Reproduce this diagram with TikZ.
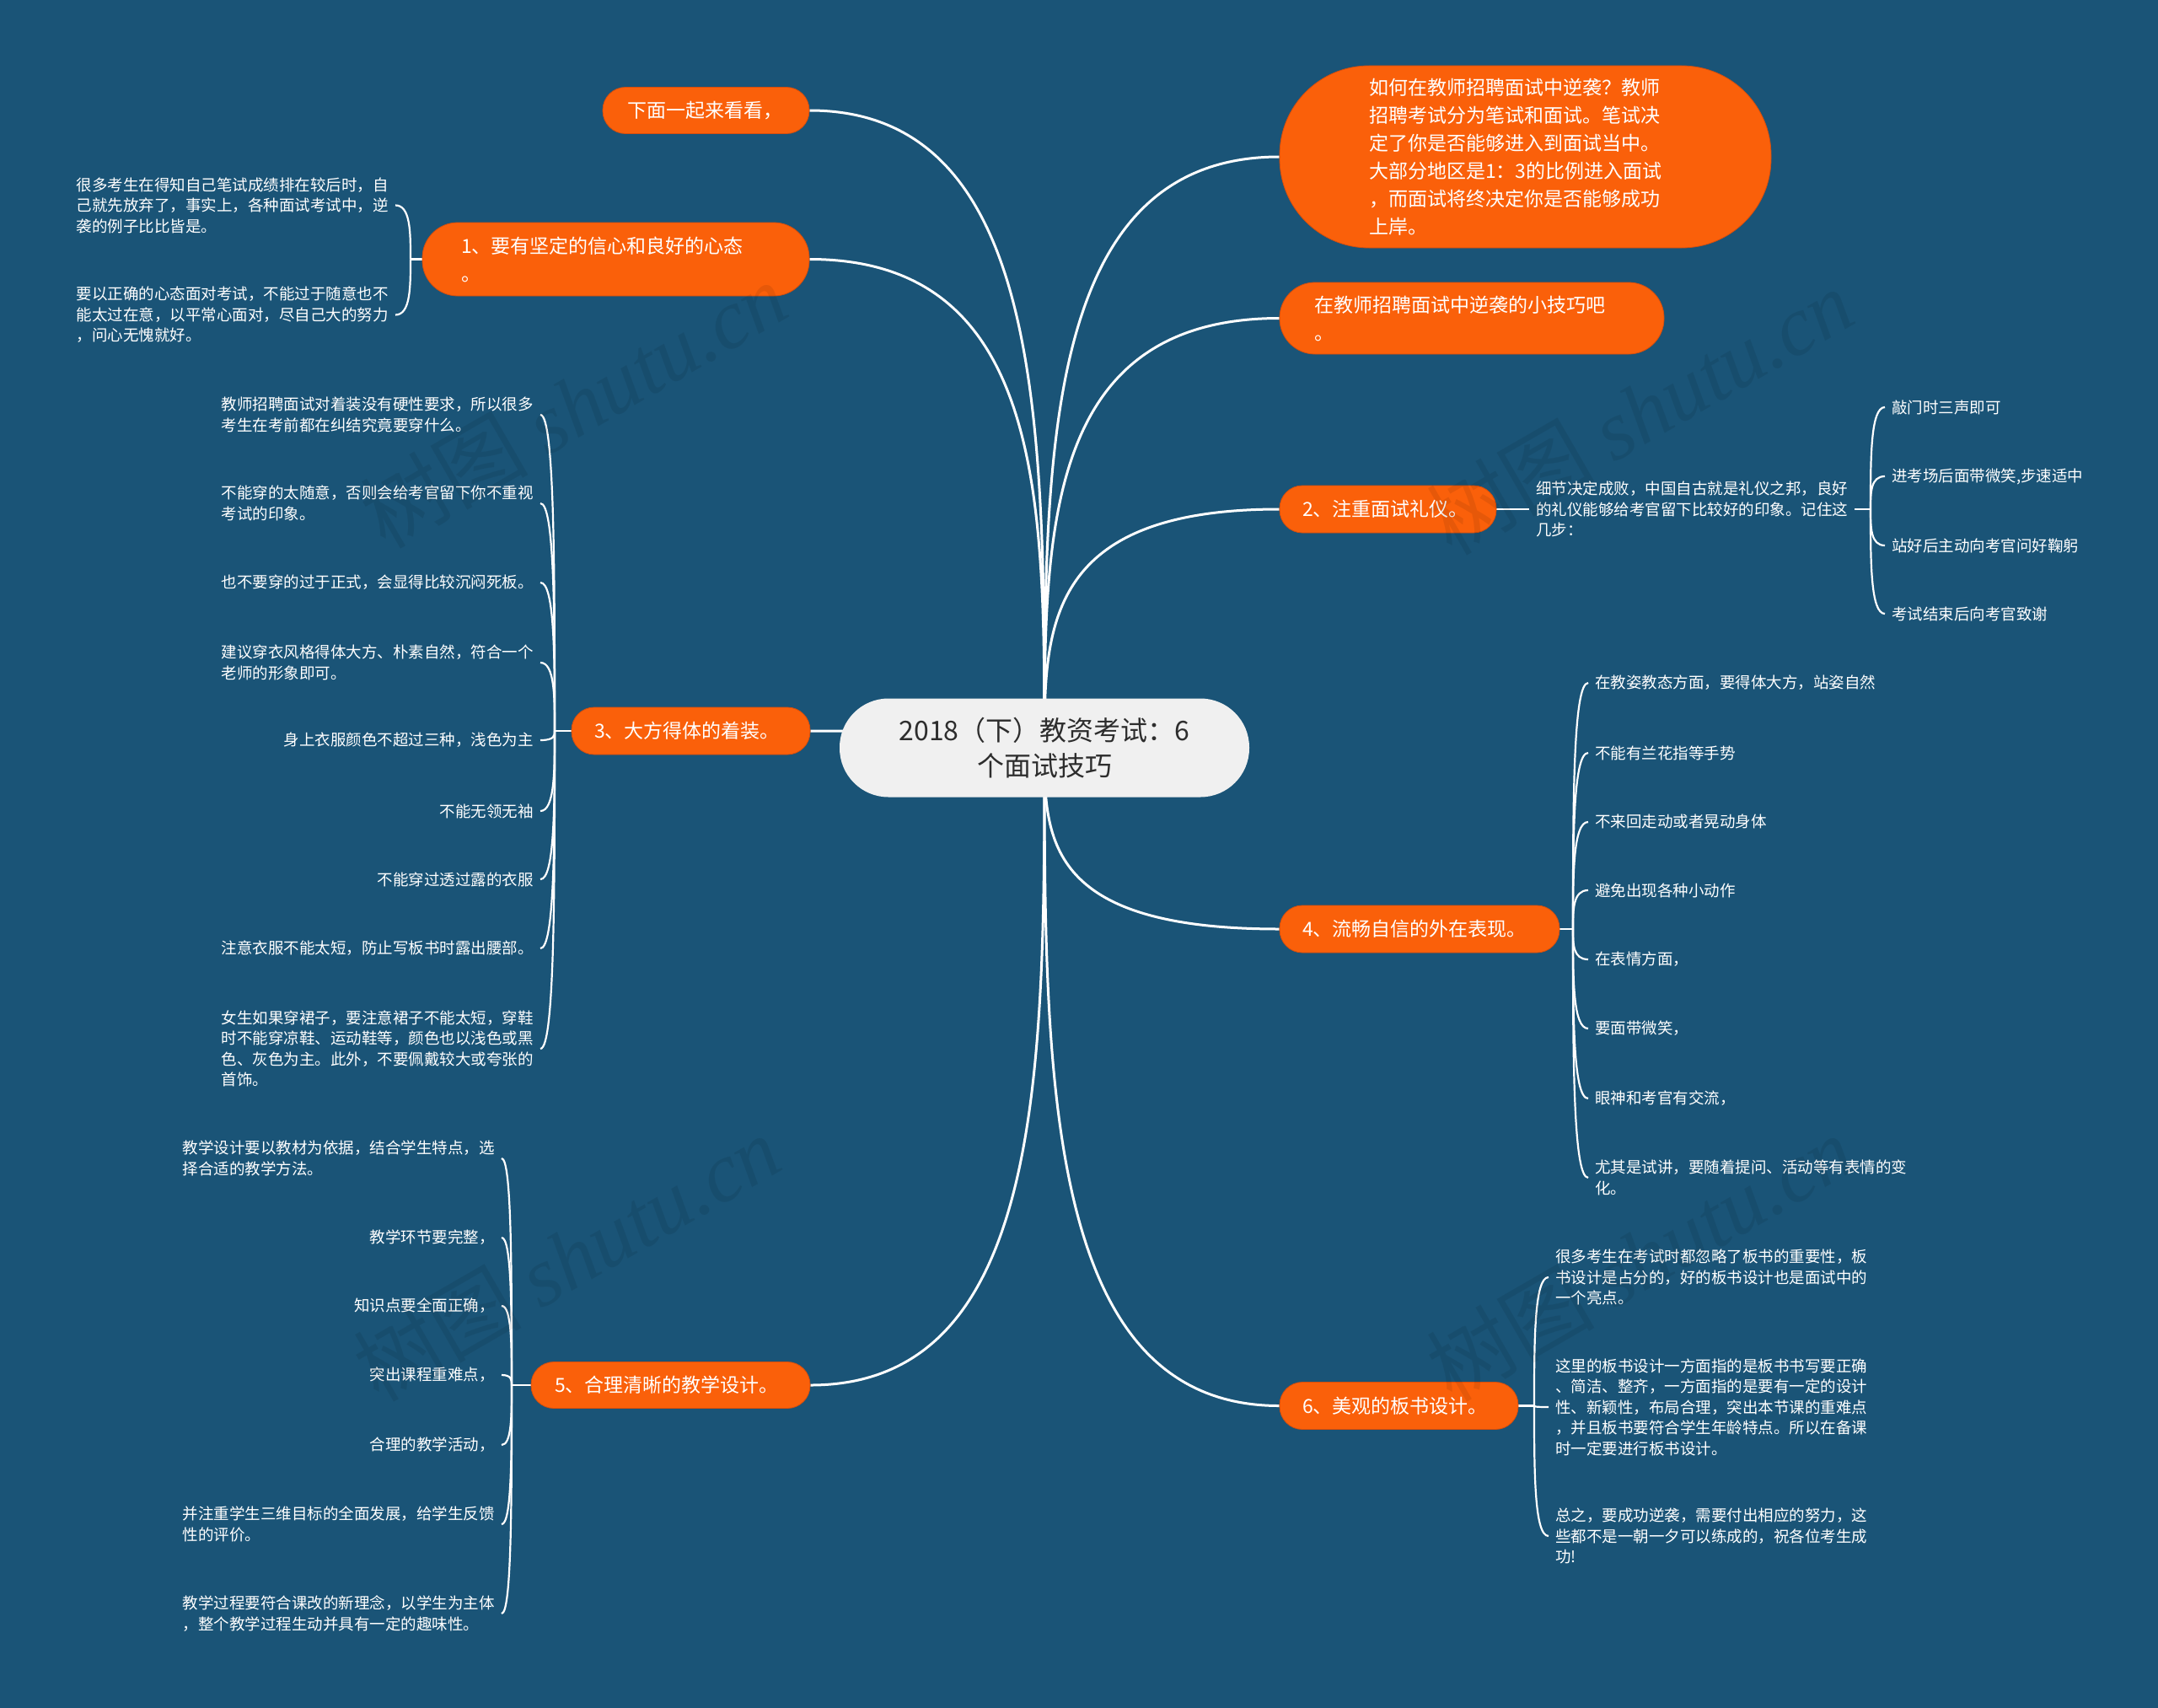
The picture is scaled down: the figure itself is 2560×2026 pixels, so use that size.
\documentclass[tikz,border=0pt]{standalone}
\usepackage{fontspec}
\setmainfont{Noto Sans CJK SC}
\newfontfamily\wmserif{Liberation Serif}
\usetikzlibrary{calc}
\definecolor{bgc}{RGB}{26,84,119}
\definecolor{orgc}{RGB}{250,96,10}
\definecolor{orgd}{RGB}{214,78,12}
\definecolor{cfill}{RGB}{240,240,240}
\definecolor{ctext}{RGB}{45,45,45}
\pgfdeclarelayer{bgl}
\pgfdeclarelayer{edgel}
\pgfsetlayers{bgl,edgel,main}
\newcommand\mmlink[3]{%
  \path (#1 |- #2) coordinate (mmk);
  \draw[#3] (#1) .. controls ($(#1)!0.5!(mmk)$) and (mmk) .. (#2);}
\tikzset{
  edge/.style={draw=white, line width=3pt},
  twig/.style={draw=white, line width=2.2pt},
  topic/.style={fill=orgc, draw=orgd, line width=0.8pt, text=white,
    font=\fontsize{23}{33}\selectfont, align=left, inner ysep=0pt},
  leaf/.style={text=white, font=\fontsize{18.5}{24.5}\selectfont,
    align=left, inner xsep=8pt, inner ysep=0pt},
  wm/.style={rotate=30, opacity=0.08, text=black, font=\fontsize{100}{100}\selectfont}
}
\begin{document}
\begin{tikzpicture}[x=1pt,y=-1pt]
\useasboundingbox (0,0) rectangle (2560,2026);
\begin{pgfonlayer}{bgl}
\fill[bgc] (0,0) rectangle (2560,2026);
\end{pgfonlayer}

% centre
\node[fill=cfill, text=ctext, font=\fontsize{32}{42}\selectfont, align=center,
  minimum width=486pt, minimum height=117pt, rounded corners=58pt, inner sep=0pt]
  (c) at (1239,887) {2018（下）教资考试：6\\个面试技巧};

% topics
\node[topic, inner xsep=29pt, text width=187pt, minimum height=55pt, rounded corners=27pt]
  (t0) at (837.5,131) {下面一起来看看，};
\node[topic, inner xsep=46pt, text width=367pt, minimum height=87pt, rounded corners=42pt]
  (t1) at (730.5,307.5) {1、要有坚定的信心和良好的心态\\。};
\node[topic, inner xsep=27pt, text width=229pt, minimum height=56pt, rounded corners=27pt]
  (t3) at (819.5,867) {3、大方得体的着装。};
\node[topic, inner xsep=28pt, text width=275pt, minimum height=55pt, rounded corners=27pt]
  (t5) at (795.5,1643) {5、合理清晰的教学设计。};
\node[topic, inner xsep=106pt, text width=371pt, minimum height=216pt, rounded corners=106pt]
  (tb) at (1809.5,186) {如何在教师招聘面试中逆袭？教师\\招聘考试分为笔试和面试。笔试决\\定了你是否能够进入到面试当中。\\大部分地区是1：3的比例进入面试\\，而面试将终决定你是否能够成功\\上岸。};
\node[topic, inner xsep=41pt, text width=374pt, minimum height=85pt, rounded corners=42pt]
  (tt) at (1746,377.5) {在教师招聘面试中逆袭的小技巧吧\\。};
\node[topic, inner xsep=27pt, text width=203pt, minimum height=56pt, rounded corners=27pt]
  (t2) at (1646.5,604) {2、注重面试礼仪。};
\node[topic, inner xsep=27pt, text width=278pt, minimum height=56pt, rounded corners=27pt]
  (t4) at (1684,1102) {4、流畅自信的外在表现。};
\node[topic, inner xsep=27pt, text width=229pt, minimum height=56pt, rounded corners=27pt]
  (t6) at (1659.5,1667.5) {6、美观的板书设计。};

% hubs
\coordinate (h1) at (487,307.5);
\coordinate (h3) at (658,867);
\coordinate (h5) at (607,1643);
\coordinate (h2) at (2219,604);
\coordinate (h4) at (1866,1102);
\coordinate (h6) at (1820,1667.5);

% branch 1 leaves
\node[leaf, anchor=east] (a1) at (469,243.5) {很多考生在得知自己笔试成绩排在较后时，自\\己就先放弃了，事实上，各种面试考试中，逆\\袭的例子比比皆是。};
\node[leaf, anchor=east] (a2) at (469,373.5) {要以正确的心态面对考试，不能过于随意也不\\能太过在意，以平常心面对，尽自己大的努力\\，问心无愧就好。};

% branch 3 leaves
\node[leaf, anchor=east] (b1) at (641,492) {教师招聘面试对着装没有硬性要求，所以很多\\考生在考前都在纠结究竟要穿什么。};
\node[leaf, anchor=east] (b2) at (641,597) {不能穿的太随意，否则会给考官留下你不重视\\考试的印象。};
\node[leaf, anchor=east] (b3) at (641,691) {也不要穿的过于正式，会显得比较沉闷死板。};
\node[leaf, anchor=east] (b4) at (641,786) {建议穿衣风格得体大方、朴素自然，符合一个\\老师的形象即可。};
\node[leaf, anchor=east] (b5) at (641,878) {身上衣服颜色不超过三种，浅色为主};
\node[leaf, anchor=east] (b6) at (641,962) {不能无领无袖};
\node[leaf, anchor=east] (b7) at (641,1043) {不能穿过透过露的衣服};
\node[leaf, anchor=east] (b8) at (641,1125) {注意衣服不能太短，防止写板书时露出腰部。};
\node[leaf, anchor=east] (b9) at (641,1244) {女生如果穿裙子，要注意裙子不能太短，穿鞋\\时不能穿凉鞋、运动鞋等，颜色也以浅色或黑\\色、灰色为主。此外，不要佩戴较大或夸张的\\首饰。};

% branch 5 leaves
\node[leaf, anchor=east] (d1) at (595,1374) {教学设计要以教材为依据，结合学生特点，选\\择合适的教学方法。};
\node[leaf, anchor=east] (d2) at (595,1468) {教学环节要完整，};
\node[leaf, anchor=east] (d3) at (595,1549) {知识点要全面正确，};
\node[leaf, anchor=east] (d4) at (595,1631) {突出课程重难点，};
\node[leaf, anchor=east] (d5) at (595,1714) {合理的教学活动，};
\node[leaf, anchor=east] (d6) at (595,1808) {并注重学生三维目标的全面发展，给学生反馈\\性的评价。};
\node[leaf, anchor=east] (d7) at (595,1914) {教学过程要符合课改的新理念，以学生为主体\\，整个教学过程生动并具有一定的趣味性。};

% branch 2 leaves
\node[leaf, anchor=west] (l2) at (1814,604) {细节决定成败，中国自古就是礼仪之邦，良好\\的礼仪能够给考官留下比较好的印象。记住这\\几步：};
\node[leaf, anchor=west] (e1) at (2236,483) {敲门时三声即可};
\node[leaf, anchor=west] (e2) at (2236,565) {进考场后面带微笑,步速适中};
\node[leaf, anchor=west] (e3) at (2236,647) {站好后主动向考官问好鞠躬};
\node[leaf, anchor=west] (e4) at (2236,728) {考试结束后向考官致谢};

% branch 4 leaves
\node[leaf, anchor=west] (f1) at (1884,810) {在教姿教态方面，要得体大方，站姿自然};
\node[leaf, anchor=west] (f2) at (1884,893) {不能有兰花指等手势};
\node[leaf, anchor=west] (f3) at (1884,975) {不来回走动或者晃动身体};
\node[leaf, anchor=west] (f4) at (1884,1056) {避免出现各种小动作};
\node[leaf, anchor=west] (f5) at (1884,1138) {在表情方面，};
\node[leaf, anchor=west] (f6) at (1884,1220) {要面带微笑，};
\node[leaf, anchor=west] (f7) at (1884,1303) {眼神和考官有交流，};
\node[leaf, anchor=west] (f8) at (1884,1397) {尤其是试讲，要随着提问、活动等有表情的变\\化。};

% branch 6 leaves
\node[leaf, anchor=west] (g1) at (1837,1515) {很多考生在考试时都忽略了板书的重要性，板\\书设计是占分的，好的板书设计也是面试中的\\一个亮点。};
\node[leaf, anchor=west] (g2) at (1837,1669) {这里的板书设计一方面指的是板书书写要正确\\、简洁、整齐，一方面指的是要有一定的设计\\性、新颖性，布局合理，突出本节课的重难点\\，并且板书要符合学生年龄特点。所以在备课\\时一定要进行板书设计。};
\node[leaf, anchor=west] (g3) at (1837,1822) {总之，要成功逆袭，需要付出相应的努力，这\\些都不是一朝一夕可以练成的，祝各位考生成\\功!};

\begin{pgfonlayer}{edgel}
% main branches
\mmlink{c.center}{t0.east}{edge}
\mmlink{c.center}{t1.east}{edge}
\mmlink{c.center}{t3.east}{edge}
\mmlink{c.center}{t5.east}{edge}
\mmlink{c.center}{tb.west}{edge}
\mmlink{c.center}{tt.west}{edge}
\mmlink{c.center}{t2.west}{edge}
\mmlink{c.center}{t4.west}{edge}
\mmlink{c.center}{t6.west}{edge}
% stubs
\draw[twig] (t1.west) -- (h1);
\draw[twig] (t3.west) -- (h3);
\draw[twig] (t5.west) -- (h5);
\draw[twig] (t2.east) -- (l2.west);
\draw[twig] (l2.east) -- (h2);
\draw[twig] (t4.east) -- (h4);
\draw[twig] (t6.east) -- (h6);
% brackets
\foreach \n in {a1,a2} {\mmlink{h1}{\n.east}{twig}}
\foreach \n in {b1,b2,b3,b4,b5,b6,b7,b8,b9} {\mmlink{h3}{\n.east}{twig}}
\foreach \n in {d1,d2,d3,d4,d5,d6,d7} {\mmlink{h5}{\n.east}{twig}}
\foreach \n in {e1,e2,e3,e4} {\mmlink{h2}{\n.west}{twig}}
\foreach \n in {f1,f2,f3,f4,f5,f6,f7,f8} {\mmlink{h4}{\n.west}{twig}}
\foreach \n in {g1,g2,g3} {\mmlink{h6}{\n.west}{twig}}
\end{pgfonlayer}

% watermarks
\node[wm] (w1) at (680,480) {树图 {\wmserif\itshape shutu.cn}};
\node[wm] (w2) at (1945,488) {树图 {\wmserif\itshape shutu.cn}};
\node[wm] (w3) at (672,1492) {树图 {\wmserif\itshape shutu.cn}};
\node[wm] (w4) at (1945,1492) {树图 {\wmserif\itshape shutu.cn}};
\end{tikzpicture}
\end{document}
